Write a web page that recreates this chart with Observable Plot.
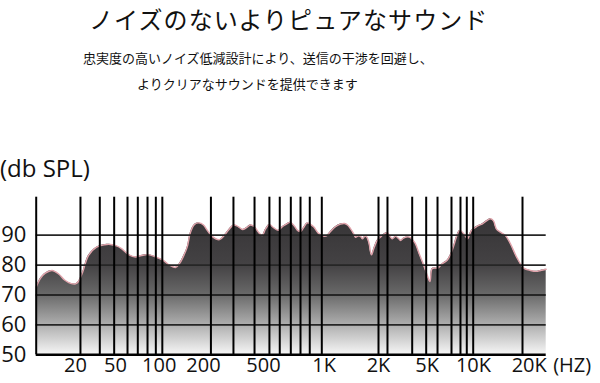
<!DOCTYPE html>
<html><head><meta charset="utf-8">
<script src="https://cdn.jsdelivr.net/npm/d3@7"></script>
<script src="https://cdn.jsdelivr.net/npm/@observablehq/plot@0.6"></script>
<style>
body{margin:0;background:#fff;}
#wrap{position:relative;width:600px;height:383px;overflow:hidden;background:#fff;}
#head{position:relative;height:190px;}
.t{position:absolute;white-space:nowrap;color:#111;font-family:"Noto Sans CJK JP";}
#title{left:89px;top:3.5px;font-size:24px;letter-spacing:1.1px;line-height:30px;}
#sub1{left:83px;top:49px;font-size:13px;line-height:18px;}
#sub2{left:137px;top:75px;font-size:13px;line-height:18px;}
#unit{left:0;top:153px;font-family:"Open Sans";font-size:24px;line-height:30px;}
</style></head>
<body><div id="wrap"><div id="head">
<div class="t" id="title">ノイズのないよりピュアなサウンド</div>
<div class="t" id="sub1">忠実度の高いノイズ低減設計により、送信の干渉を回避し、</div>
<div class="t" id="sub2">よりクリアなサウンドを提供できます</div>
<div class="t" id="unit">(db SPL)</div>
</div><div id="chart"></div></div>
<script>
// Frequency response curve (Hz, dB SPL)
const freqHz = [8, 8.8, 9.9, 11.6, 13.5, 15.5, 17.8, 20, 21.4, 23.5, 26.9, 32.4, 38.9, 44.6, 50.8, 55, 61.5, 68.7, 75.5, 83.1, 91.4, 99, 107, 117.5, 129, 137.4, 146.3, 155, 163.2, 173.8, 185.8, 200, 212.6, 229.3, 255.3, 275.6, 294.3, 317.5, 341.2, 362.8, 385.5, 409.9, 436, 463, 489.9, 511.5, 535, 560.6, 593.4, 614, 642.9, 680.7, 712.5, 737.2, 763, 789.5, 823.7, 855.4, 888.5, 937.3, 992, 1030, 1084, 1155, 1231, 1296, 1346, 1398, 1453, 1491, 1549, 1589, 1630, 1672, 1715, 1766, 1828, 1883, 1966, 2116, 2355, 2588, 2754, 2914, 3025, 3201, 3387, 3651, 3791, 4011, 4325, 4689, 5010, 5213, 5375, 5662, 5835, 6254, 6745, 7087, 7445, 7754, 8144, 8648, 9138, 9705, 10470, 11180, 11755, 12355, 12823, 13310, 13985, 14885, 15845, 17220, 18690, 20340, 22010, 23200, 25000];
const splDb = [72.6, 75.5, 77.3, 78.2, 77, 75, 73.9, 73.7, 74.5, 77.5, 83.2, 86, 86.8, 86.9, 86.4, 85.5, 83.5, 82.7, 83.2, 83.5, 83, 82.3, 81.5, 80, 79.2, 80.5, 83, 86, 91, 93.6, 94.1, 93.4, 91.5, 89.5, 88.5, 90, 91.8, 93.4, 92.8, 91.9, 92.5, 93.4, 92.8, 91, 89.9, 92, 93.6, 92.5, 91.6, 92.6, 93.5, 94.3, 93, 91.6, 91.2, 92.5, 94.1, 93.6, 92.7, 90.6, 89.7, 89.8, 91.2, 92.8, 93.7, 93.9, 93.4, 92.2, 90.6, 89.3, 89.8, 89.6, 88.8, 89.5, 89.5, 87.7, 83.4, 85.5, 88.2, 89.7, 90.8, 88.8, 89.6, 88.9, 88.2, 89, 89.4, 89.2, 88.5, 87.1, 83.5, 79.9, 76.5, 74.5, 78.8, 79, 78.9, 80.4, 81.6, 83.5, 86.5, 89.5, 91.6, 90.5, 88.8, 91.6, 93, 93.8, 94.8, 95.5, 94.8, 92, 91, 89.9, 87.1, 82.3, 79, 78.2, 77.9, 78.2, 78.6];
// Vertical grid lines (Hz)
const gridFreqs = [22.4, 34.9, 48.5, 60.5, 71.2, 83.1, 94.8, 105, 224, 316, 436, 535, 602, 683, 763, 848, 973, 2000, 2368, 3770, 4906, 5835, 7194, 8228, 9044, 9955, 18400];
// Horizontal grid lines (dB)
const hGrid = [60, 70, 80, 90];
const yTicks = [50, 60, 70, 80, 90];
const yTickLabels = ["50", "60", "70", "80", "90"];
const xTicks = [20, 50, 100, 200, 500, 1000, 2000, 5000, 10000, 20000];
const xTickLabels = ["20", "50", "100", "200", "500", "1K", "2K", "5K", "10K", "20K"];
const xUnit = "(HZ)";
const freqMin = 8, freqMax = 25000, dbMin = 50, dbTop = 102.7;

const curve = freqHz.map((f, i) => ({f, db: splDb[i]}));
const xLab = xTicks.map((f, i) => ({f, label: xTickLabels[i]}));

const W = 600, H = 193;
const plot = Plot.plot({
  width: W, height: H,
  marginLeft: 35.7, marginRight: 54.3, marginTop: 6.7, marginBottom: 28.7,
  style: {background: "transparent", fontFamily: "Open Sans", color: "#111", overflow: "visible"},
  x: {type: "log", axis: null,
      domain: [freqMin, 20, 50, 100, 200, 500, 1000, 2000, 5000, 10000, 20000, freqMax],
      range: [35.7, 75, 115, 158.7, 203, 263, 323.7, 378, 426.7, 473, 528.7, 545.7]},
  y: {domain: [dbMin, dbTop], range: [164.3, 6.7]},
  marks: [
    Plot.areaY(curve, {x: "f", y1: dbMin, y2: "db", fill: "url(#splGrad)", curve: "catmull-rom"}),
    Plot.line(curve, {x: "f", y: "db", stroke: "#e0a3ab", strokeWidth: 1.4, curve: "catmull-rom"}),
    Plot.ruleY(hGrid, {x1: freqMin, x2: freqMax, stroke: "#262626", strokeWidth: 1.8}),
    Plot.ruleX(gridFreqs, {y1: dbMin, y2: dbTop, stroke: "#000", strokeWidth: 2}),
    Plot.ruleX([freqMin], {y1: dbMin, y2: dbTop, stroke: "#000", strokeWidth: 2}),
    Plot.ruleY([dbMin], {x1: freqMin, x2: freqMax, stroke: "#000", strokeWidth: 2.5}),
    Plot.text(xLab, {x: "f", text: "label", frameAnchor: "bottom", lineAnchor: "top", dy: 3, fontSize: 20, fill: "#111"}),
    Plot.axisY(yTicks, {tickSize: 0, tickPadding: 3, fontSize: 22, label: null, textAnchor: "start", dx: -32,
      tickFormat: d => yTickLabels[yTicks.indexOf(d)]}),
    Plot.text([xUnit], {text: d => d, frameAnchor: "bottom-right", textAnchor: "start", lineAnchor: "top", dx: 7, dy: 3, fontSize: 20})
  ]
});

const ys = plot.scale("y");
const defs = d3.select(plot).insert("defs", ":first-child");
const g = defs.append("linearGradient").attr("id", "splGrad")
  .attr("gradientUnits", "userSpaceOnUse")
  .attr("x1", 0).attr("x2", 0)
  .attr("y1", ys.apply(96)).attr("y2", ys.apply(dbMin));
[[0, "#363436"], [0.35, "#444244"], [0.56, "#686868"], [0.78, "#adadad"], [1, "#f6f6f6"]]
  .forEach(([o, c]) => g.append("stop").attr("offset", o).attr("stop-color", c));

document.getElementById("chart").appendChild(plot);
</script>
</body></html>
